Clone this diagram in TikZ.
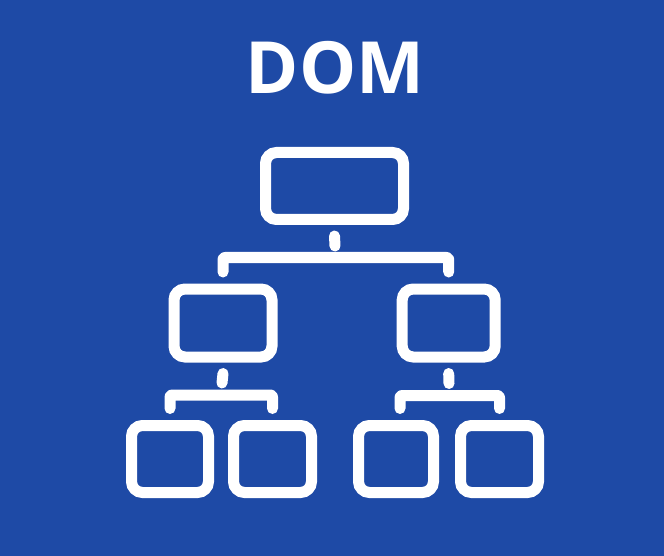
\documentclass[tikz,border=0pt]{standalone}
\usepackage{fontspec}
\setmainfont{Open Sans}
\usetikzlibrary{calc}
\definecolor{bgblue}{HTML}{1E4AA6}
\begin{document}
\begin{tikzpicture}[x=1pt,y=-1pt,
  box/.style={draw=white,line width=11pt,rounded corners=11pt,inner sep=0pt,minimum height=67pt},
  stub/.style={draw=white,line width=11pt,line cap=round},
  bar/.style={draw=white,line width=11pt,line cap=round,line join=round,rounded corners=2pt}]
\fill[bgblue] (0,0) rectangle (664,556);
\useasboundingbox (0,0) rectangle (664,556);
\node[text=white,font=\fontsize{72}{86}\selectfont\bfseries,inner sep=0pt] (title) at (335,68) {DOM};
\node[box,minimum width=138pt] (top) at (334.5,186) {};
\node[box,minimum width=98pt,minimum height=68pt] (midL) at (223,323) {};
\node[box,minimum width=93pt,minimum height=68pt] (midR) at (448.7,323) {};
\node[box,minimum width=77pt] (b1) at (170,459) {};
\node[box,minimum width=78pt] (b2) at (272.5,459) {};
\node[box,minimum width=75pt] (b3) at (396,459) {};
\node[box,minimum width=78pt] (b4) at (499.5,459) {};
% top level
\coordinate (j0) at (335,257.5);
\draw[stub] ([yshift=-11pt]top.south) -- ([yshift=11.5pt]j0);
\draw[bar] ([yshift=11.5pt]midL.north) |- (j0) -| ([yshift=11.5pt]midR.north);
% left subtree
\coordinate (j1) at (222,395);
\draw[stub] ([yshift=-11pt]midL.south) -- ([yshift=12pt]j1);
\draw[bar] ([yshift=11.5pt]b1.north) |- (j1) -| ([yshift=11.5pt]b2.north);
% right subtree
\coordinate (j2) at (449,395.5);
\draw[stub] ([yshift=-11pt]midR.south) -- ([yshift=12pt]j2);
\draw[bar] ([yshift=11.5pt,xshift=4pt]b3.north) |- (j2) -| ([yshift=11.5pt]b4.north);
\end{tikzpicture}
\end{document}
